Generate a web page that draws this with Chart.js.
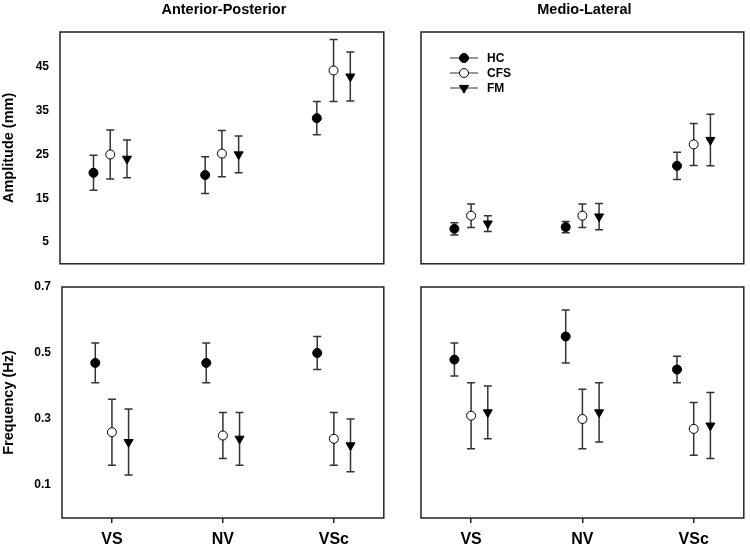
<!DOCTYPE html>
<html>
<head>
<meta charset="utf-8">
<script src="https://cdn.jsdelivr.net/npm/chart.js@4.4.0/dist/chart.umd.min.js"></script>
<style>
  body { margin: 0; background: #fff; }
  #wrap { position: relative; width: 750px; height: 546px; }
  .panel { position: absolute; }
</style>
</head>
<body>
<div id="wrap">
  <div class="panel" style="left:0;top:0;width:390px;height:270px"><canvas id="apAmp"></canvas></div>
  <div class="panel" style="left:390px;top:0;width:360px;height:270px"><canvas id="mlAmp"></canvas></div>
  <div class="panel" style="left:0;top:270px;width:390px;height:276px"><canvas id="apFreq"></canvas></div>
  <div class="panel" style="left:390px;top:270px;width:360px;height:276px"><canvas id="mlFreq"></canvas></div>
</div>
<script>
//Categories and groups
var groups = ["VS", "NV", "VSc"];
var groupPos = [1, 2, 3];
var seriesNames = ["HC", "CFS", "FM"];

//Tick labels
var ampTicks = [5, 15, 25, 35, 45];
var freqTicks = [0.1, 0.3, 0.5, 0.7];

//Anterior-Posterior amplitude (mm) - mean and error bar
var apAmpHC = [20.8, 20.3, 33.3];
var apAmpHCErr = [4.0, 4.2, 3.8];
var apAmpCFS = [25.0, 25.2, 44.2];
var apAmpCFSErr = [5.6, 5.3, 7.1];
var apAmpFM = [24.0, 25.0, 42.8];
var apAmpFMErr = [4.3, 4.2, 5.6];

//Medio-Lateral amplitude (mm)
var mlAmpHC = [8.0, 8.4, 22.4];
var mlAmpHCErr = [1.4, 1.3, 3.1];
var mlAmpCFS = [11.0, 11.0, 27.3];
var mlAmpCFSErr = [2.7, 2.7, 4.8];
var mlAmpFM = [9.2, 10.8, 28.3];
var mlAmpFMErr = [1.8, 3.0, 5.9];

//Anterior-Posterior frequency (Hz)
var apFreqHC = [0.47, 0.47, 0.50];
var apFreqHCErr = [0.06, 0.06, 0.05];
var apFreqCFS = [0.26, 0.25, 0.24];
var apFreqCFSErr = [0.10, 0.07, 0.08];
var apFreqFM = [0.23, 0.24, 0.22];
var apFreqFMErr = [0.10, 0.08, 0.08];

//Medio-Lateral frequency (Hz)
var mlFreqHC = [0.48, 0.55, 0.45];
var mlFreqHCErr = [0.05, 0.08, 0.04];
var mlFreqCFS = [0.31, 0.30, 0.27];
var mlFreqCFSErr = [0.10, 0.09, 0.08];
var mlFreqFM = [0.32, 0.32, 0.28];
var mlFreqFMErr = [0.08, 0.09, 0.10];

Chart.defaults.font.family = '"Liberation Sans", Arial, sans-serif';
Chart.defaults.color = "#000";

//marker look of each group, and side shift inside a category
var seriesOffset = [-0.15, 0, 0.15];
var seriesStyle = [
  { pointStyle: "circle", bg: "#000", radius: 4.5, rotation: 0 },
  { pointStyle: "circle", bg: "#fff", radius: 4.5, rotation: 0 },
  { pointStyle: "triangle", bg: "#000", radius: 5.2, rotation: 180 }
];

function makeDatasets(means, errs) {
  return means.map(function(vals, s) {
    var st = seriesStyle[s];
    return {
      label: seriesNames[s],
      data: vals.map(function(v, i) { return { x: groupPos[i] + seriesOffset[s], y: v }; }),
      errors: errs[s],
      pointStyle: st.pointStyle,
      pointRotation: st.rotation,
      pointRadius: st.radius,
      pointBackgroundColor: st.bg,
      pointBorderColor: "#000",
      pointBorderWidth: 1,
      showLine: false
    };
  });
}

//error bars drawn under the markers
var errorBars = {
  id: "errorBars",
  beforeDatasetsDraw: function(chart) {
    var ctx = chart.ctx;
    var yScale = chart.scales.y;
    ctx.save();
    ctx.strokeStyle = "#333";
    ctx.lineWidth = 1.5;
    chart.data.datasets.forEach(function(ds, d) {
      var meta = chart.getDatasetMeta(d);
      meta.data.forEach(function(pt, i) {
        var v = ds.data[i].y, e = ds.errors[i];
        var top = yScale.getPixelForValue(v + e);
        var bot = yScale.getPixelForValue(v - e);
        ctx.beginPath();
        ctx.moveTo(pt.x, top); ctx.lineTo(pt.x, bot);
        ctx.moveTo(pt.x - 4, top); ctx.lineTo(pt.x + 4, top);
        ctx.moveTo(pt.x - 4, bot); ctx.lineTo(pt.x + 4, bot);
        ctx.stroke();
      });
    });
    ctx.restore();
  }
};

//frame, panel title and the in-plot legend
var panelDecor = {
  id: "panel",
  afterDraw: function(chart, args, opts) {
    var ctx = chart.ctx;
    var a = chart.chartArea;
    ctx.save();
    ctx.strokeStyle = "#222";
    ctx.lineWidth = 1.5;
    ctx.strokeRect(a.left, a.top, a.right - a.left, a.bottom - a.top);

    if (opts.title) {
      ctx.fillStyle = "#000";
      ctx.font = 'bold 14.5px "Liberation Sans", Arial, sans-serif';
      ctx.textAlign = "center";
      ctx.textBaseline = "alphabetic";
      ctx.fillText(opts.title, (a.left + a.right) / 2 + 2, 14);
    }

    if (opts.legend) {
      chart.data.datasets.forEach(function(ds, d) {
        var y = a.top + 26 + d * 15;
        ctx.strokeStyle = "#333";
        ctx.lineWidth = 1;
        ctx.beginPath();
        ctx.moveTo(a.left + 29, y);
        ctx.lineTo(a.left + 57, y);
        ctx.stroke();
        ctx.fillStyle = ds.pointBackgroundColor;
        ctx.strokeStyle = "#000";
        Chart.helpers.drawPoint(ctx, {
          pointStyle: ds.pointStyle, rotation: ds.pointRotation,
          radius: ds.pointRadius, borderWidth: 1
        }, a.left + 43, y);
        ctx.fillStyle = "#000";
        ctx.font = 'bold 12px "Liberation Sans", Arial, sans-serif';
        ctx.textAlign = "left";
        ctx.textBaseline = "middle";
        ctx.fillText(ds.label, a.left + 66, y + 1);
      });
    }
    ctx.restore();
  }
};

function makePanel(canvasId, cfg) {
  return new Chart(document.getElementById(canvasId), {
    type: "scatter",
    data: { datasets: makeDatasets(cfg.means, cfg.errs) },
    options: {
      responsive: true,
      maintainAspectRatio: false,
      animation: false,
      layout: { padding: cfg.padding },
      plugins: {
        legend: { display: false },
        tooltip: { enabled: false },
        panel: { title: cfg.title, legend: cfg.legend }
      },
      scales: {
        x: {
          type: "linear",
          min: 0.55,
          max: 3.45,
          display: cfg.showX,
          afterBuildTicks: function(s) { s.ticks = groupPos.map(function(v) { return { value: v }; }); },
          afterFit: function(s) {
            s.height = cfg.showX ? 28 : 0;
            s.paddingLeft = 0;
            s.paddingRight = 0;
          },
          grid: { drawOnChartArea: false, drawTicks: true, tickLength: 5, color: "#222", lineWidth: 1.5 },
          border: { display: false },
          ticks: {
            padding: 7,
            color: "#000",
            font: { size: 16, weight: "bold" },
            callback: function(v) { return groups[groupPos.indexOf(v)]; }
          }
        },
        y: {
          type: "linear",
          min: cfg.yMin,
          max: cfg.yMax,
          display: cfg.showY,
          afterBuildTicks: function(s) { s.ticks = cfg.yTicks.map(function(v) { return { value: v }; }); },
          afterFit: function(s) {
            s.width = cfg.yWidth;
            s.paddingTop = 0;
            s.paddingBottom = 0;
          },
          grid: { display: false, drawTicks: false },
          border: { display: false },
          ticks: {
            padding: 11,
            color: "#000",
            font: { size: 12, weight: "bold" },
            callback: cfg.fmt
          },
          title: {
            display: true,
            text: cfg.yTitle,
            color: "#000",
            padding: 0,
            font: { size: 14.5, weight: "bold" }
          }
        }
      }
    },
    plugins: [errorBars, panelDecor]
  });
}

// Start of amplitude panels
makePanel("apAmp", {
  means: [apAmpHC, apAmpCFS, apAmpFM],
  errs: [apAmpHCErr, apAmpCFSErr, apAmpFMErr],
  title: "Anterior-Posterior",
  yTitle: "Amplitude (mm)",
  yMin: 0, yMax: 53, yTicks: ampTicks, yWidth: 60,
  fmt: function(v) { return v; },
  showX: false, showY: true, legend: false,
  padding: { top: 32, right: 6, bottom: 6, left: 0 }
});

makePanel("mlAmp", {
  means: [mlAmpHC, mlAmpCFS, mlAmpFM],
  errs: [mlAmpHCErr, mlAmpCFSErr, mlAmpFMErr],
  title: "Medio-Lateral",
  yTitle: "",
  yMin: 0, yMax: 53, yTicks: ampTicks, yWidth: 0,
  fmt: function(v) { return v; },
  showX: false, showY: false, legend: true,
  padding: { top: 32, right: 4, bottom: 6, left: 31 }
});
// End of amplitude panels

// Start of frequency panels
makePanel("apFreq", {
  means: [apFreqHC, apFreqCFS, apFreqFM],
  errs: [apFreqHCErr, apFreqCFSErr, apFreqFMErr],
  title: "",
  yTitle: "Frequency (Hz)",
  yMin: 0, yMax: 0.7, yTicks: freqTicks, yWidth: 62,
  fmt: function(v) { return v.toFixed(1); },
  showX: true, showY: true, legend: false,
  padding: { top: 17, right: 6, bottom: 0, left: 0 }
});

makePanel("mlFreq", {
  means: [mlFreqHC, mlFreqCFS, mlFreqFM],
  errs: [mlFreqHCErr, mlFreqCFSErr, mlFreqFMErr],
  title: "",
  yTitle: "",
  yMin: 0, yMax: 0.7, yTicks: freqTicks, yWidth: 0,
  fmt: function(v) { return v.toFixed(1); },
  showX: true, showY: false, legend: false,
  padding: { top: 17, right: 4, bottom: 0, left: 31 }
});
// End of frequency panels
</script>
</body>
</html>
